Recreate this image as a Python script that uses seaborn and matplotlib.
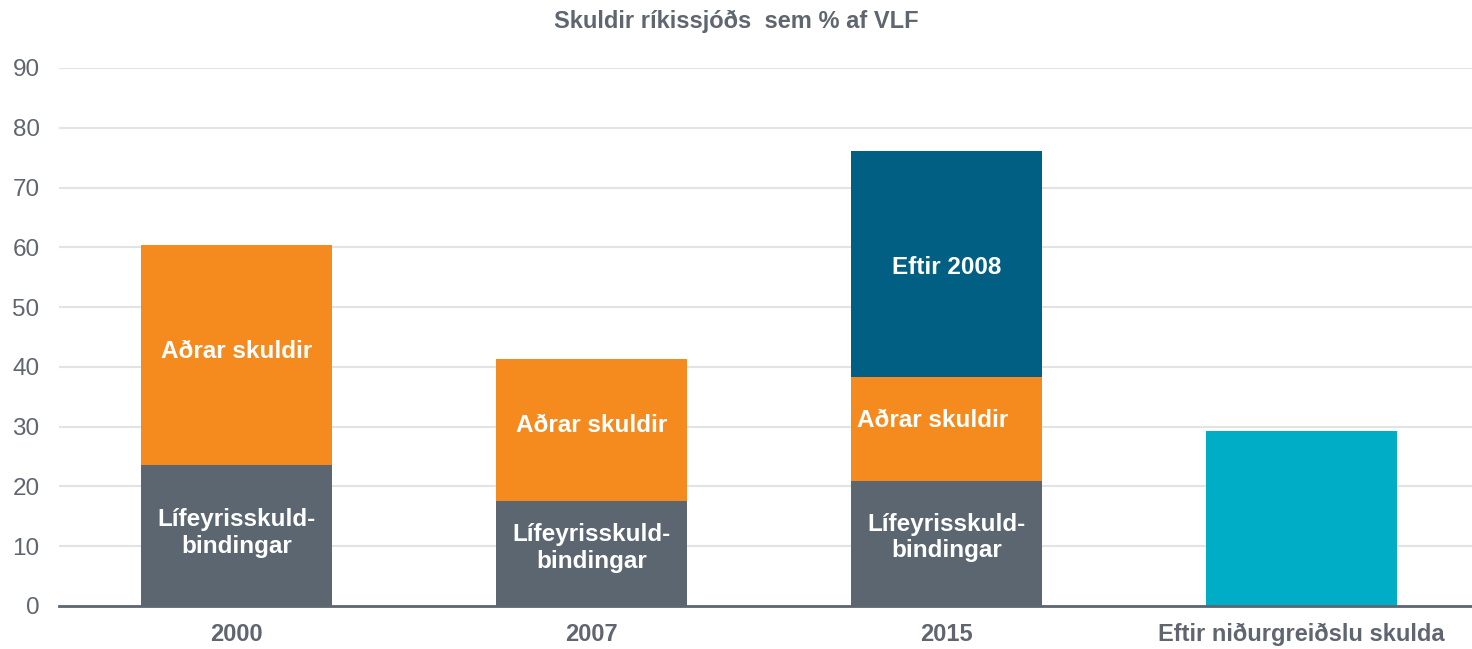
import matplotlib
matplotlib.use("Agg")
import matplotlib.pyplot as plt
import seaborn as sns
import numpy as np
import pandas as pd

# Debt categories (x-axis) and stacked components, % of GDP
categories = ["2000", "2007", "2015", "Eftir niðurgreiðslu skulda"]
lifeyris = [23.6, 17.6, 20.9, 0.0]
adrar = [36.8, 23.7, 17.4, 0.0]
eftir_2008 = [0.0, 0.0, 37.8, 0.0]
eftir_nidurgreidslu = [0.0, 0.0, 0.0, 29.3]

title = "Skuldir ríkissjóðs  sem % af VLF"
yticks = [0, 10, 20, 30, 40, 50, 60, 70, 80, 90]

c_grey = "#5c6670"
c_orange = "#f58b1f"
c_navy = "#005f83"
c_cyan = "#00adc6"
text_grey = "#5f6670"

sns.set_theme(style="white")
plt.rcParams["font.family"] = ["Liberation Sans", "DejaVu Sans"]

fig = plt.figure(figsize=(14.72, 6.49), dpi=100)
ax = fig.add_axes([59 / 1472, 1 - 606 / 649, 1420 / 1472, (606 - 68) / 649])

lay1 = np.array(lifeyris)
lay2 = lay1 + np.array(adrar)
lay3 = lay2 + np.array(eftir_2008)
lay4 = lay3 + np.array(eftir_nidurgreidslu)

df = pd.DataFrame({"cat": categories, "l1": lay1, "l2": lay2, "l3": lay3, "l4": lay4})

bw = 0.538
# draw cumulative totals from the top layer down so each segment shows
for col, color in [("l4", c_cyan), ("l3", c_navy), ("l2", c_orange), ("l1", c_grey)]:
    sns.barplot(data=df, x="cat", y=col, color=color, width=bw, ax=ax,
                saturation=1, linewidth=0, order=categories)

# segment labels
lab_kw = dict(ha="center", va="center", color="white", fontsize=17.5, fontweight="bold")
lif_off = [0.4, 0.9, 1.0]
adr_off = [0.5, 0.8, 1.5]
for i in range(3):
    ax.text(i, lay1[i] / 2 + lif_off[i], "Lífeyrisskuld-\nbindingar", linespacing=1.2, **lab_kw)
    ax.text(i - (0.04 if i == 2 else 0), (lay1[i] + lay2[i]) / 2 + adr_off[i],
            "Aðrar skuldir", **lab_kw)
ax.text(2, (lay2[2] + lay3[2]) / 2 - 0.5, "Eftir 2008", **lab_kw)

ax.set_xlim(-0.5, 3.5)
ax.set_ylim(0, 90)
ax.set_yticks(yticks)
ax.set_yticklabels([str(v) for v in yticks])
ax.set_xlabel("")
ax.set_ylabel("")
ax.yaxis.grid(True, color="#e3e3e3", linewidth=1.5)
ax.set_axisbelow(True)
for s in ["top", "right", "left"]:
    ax.spines[s].set_visible(False)
ax.spines["bottom"].set_color(c_grey)
ax.spines["bottom"].set_linewidth(2)
ax.tick_params(axis="y", length=0, labelsize=17.5, labelcolor=text_grey, pad=14)
ax.tick_params(axis="x", length=0, labelsize=17, labelcolor=text_grey, pad=12)
for t in ax.get_xticklabels():
    t.set_fontweight("bold")

fig.text(0.5, 1 - 21 / 649, title, ha="center", va="center", fontsize=17,
         fontweight="bold", color=text_grey)

fig.savefig("out.png", dpi=100, facecolor="white")
